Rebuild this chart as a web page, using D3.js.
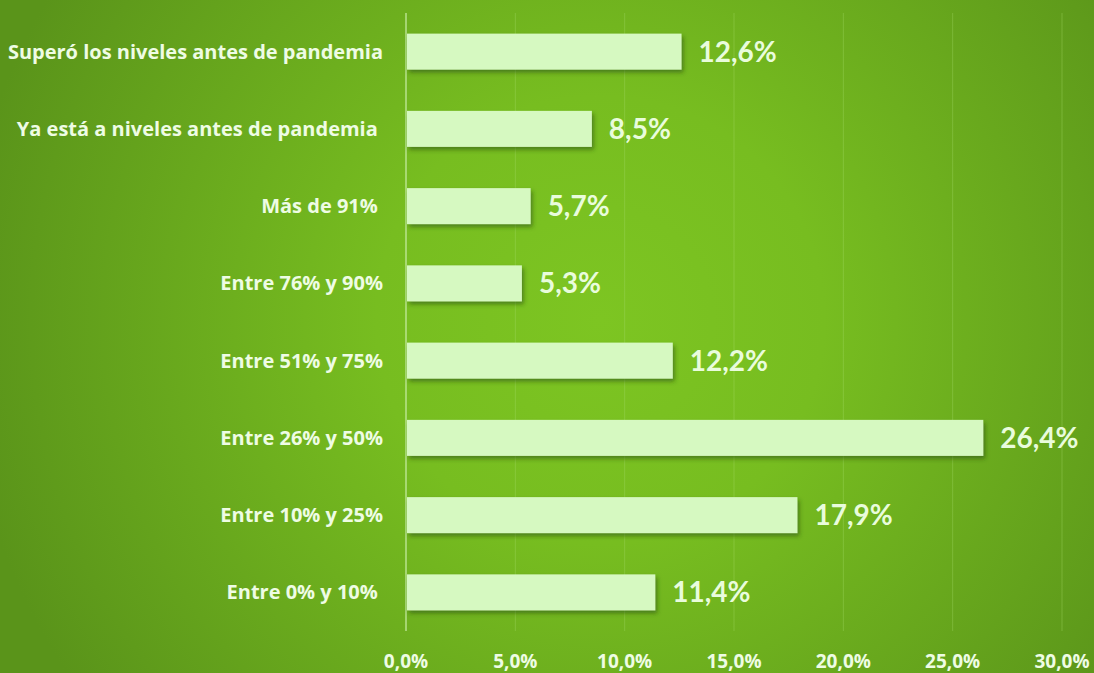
<!DOCTYPE html>
<html>
<head>
<meta charset="utf-8">
<script src="https://cdn.jsdelivr.net/npm/d3@7"></script>
<style>
  html, body { margin: 0; padding: 0; background: #6aab1e; }
  svg { display: block; }
  text { font-weight: 700; white-space: pre; }
  .val { font-family: Lato, "Open Sans", sans-serif; }
  .cat, .tick { font-family: "Open Sans", Lato, sans-serif; }
</style>
</head>
<body>
<svg id="chart" width="1094" height="673"></svg>
<script>
// Categories from top to bottom and their shares (%)
const categories = [
  "Superó los niveles antes de pandemia",
  "Ya está a niveles antes de pandemia ",
  "Más de 91% ",
  "Entre 76% y 90%",
  "Entre 51% y 75%",
  "Entre 26% y 50%",
  "Entre 10% y 25%",
  "Entre 0% y 10% "
];
const values = [12.6, 8.5, 5.7, 5.3, 12.2, 26.4, 17.9, 11.4];
const tickValues = [0, 5, 10, 15, 20, 25, 30];

const W = 1094, H = 673;
const margin = { top: 13, right: 32, bottom: 42, left: 406 };

const svg = d3.select("#chart");
const defs = svg.append("defs");

// Background: bright centre fading to darker green at the edges
const bg = defs.append("radialGradient")
  .attr("id", "bg")
  .attr("gradientUnits", "userSpaceOnUse")
  .attr("cx", 600).attr("cy", 320).attr("r", 640);
bg.append("stop").attr("offset", 0).attr("stop-color", "#7dc522");
bg.append("stop").attr("offset", 0.35).attr("stop-color", "#77bd20");
bg.append("stop").attr("offset", 1).attr("stop-color", "#5a941a");

// Soft drop shadow for the bars
const sh = defs.append("filter").attr("id", "shadow")
  .attr("x", "-5%").attr("y", "-30%").attr("width", "115%").attr("height", "180%");
sh.append("feDropShadow")
  .attr("dx", 2).attr("dy", 3).attr("stdDeviation", 2)
  .attr("flood-color", "#2c4d08").attr("flood-opacity", 0.55);

svg.append("rect").attr("width", W).attr("height", H).attr("fill", "url(#bg)");

const x = d3.scaleLinear().domain([0, 30]).range([margin.left, 1062]);
const y = d3.scaleBand().domain(categories)
  .range([margin.top, 631]).paddingInner(0.534).paddingOuter(0.267);

// Vertical gridlines
svg.append("g").selectAll("line")
  .data(tickValues.slice(1))
  .join("line")
  .attr("x1", d => x(d)).attr("x2", d => x(d))
  .attr("y1", margin.top).attr("y2", 631)
  .attr("stroke", "#a6dc6a").attr("stroke-opacity", 0.35).attr("stroke-width", 1);

// Category axis line
svg.append("line")
  .attr("x1", x(0)).attr("x2", x(0))
  .attr("y1", margin.top).attr("y2", 631)
  .attr("stroke", "#c4eaa0").attr("stroke-opacity", 0.85).attr("stroke-width", 1.5);

// Bars
svg.append("g").selectAll("rect")
  .data(values)
  .join("rect")
  .attr("x", x(0) + 1)
  .attr("y", (d, i) => y(categories[i]))
  .attr("width", d => x(d) - x(0) - 1)
  .attr("height", y.bandwidth())
  .attr("fill", "#d6f9c1")
  .attr("filter", "url(#shadow)");

// Value labels
const fmt = v => v.toFixed(1).replace(".", ",") + "%";
svg.append("g").selectAll("text")
  .data(values)
  .join("text")
  .attr("class", "val")
  .attr("x", d => x(d) + 17)
  .attr("y", (d, i) => y(categories[i]) + y.bandwidth() / 2 + 10)
  .attr("fill", "#e9fcdc")
  .attr("font-size", 28)
  .text(d => fmt(d));

// Category labels
svg.append("g").selectAll("text")
  .data(categories)
  .join("text")
  .attr("class", "cat")
  .attr("x", 383)
  .attr("y", d => y(d) + y.bandwidth() / 2 + 7)
  .attr("text-anchor", "end")
  .attr("fill", "#eefce4")
  .attr("font-size", 20)
  .text(d => d);

// Value axis tick labels
svg.append("g").selectAll("text")
  .data(tickValues)
  .join("text")
  .attr("class", "tick")
  .attr("x", d => x(d))
  .attr("y", 668)
  .attr("text-anchor", "middle")
  .attr("fill", "#eefce4")
  .attr("font-size", 19)
  .text(d => d.toFixed(1).replace(".", ",") + "%");
</script>
</body>
</html>
